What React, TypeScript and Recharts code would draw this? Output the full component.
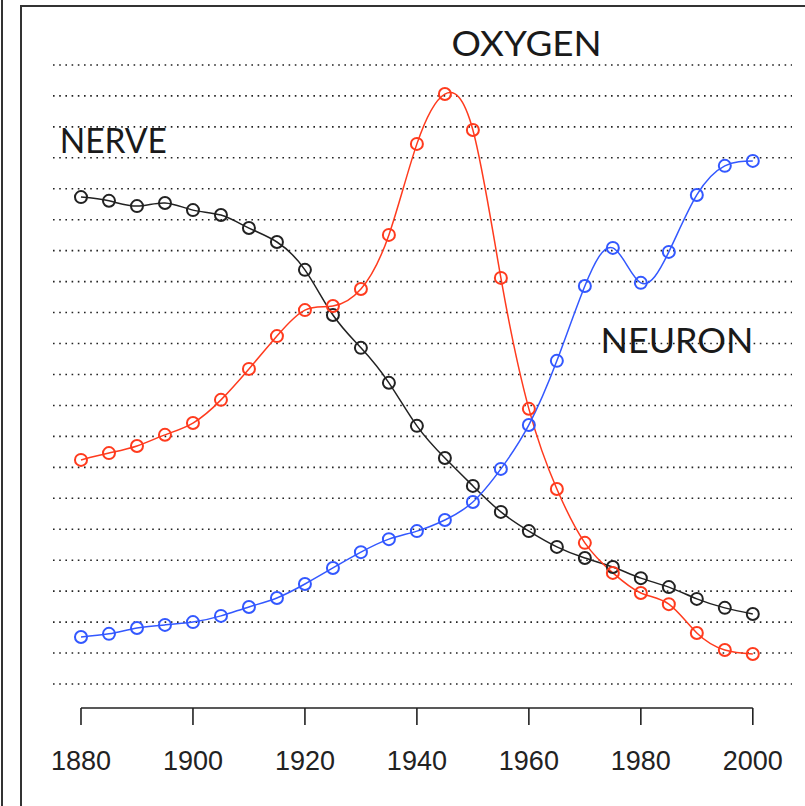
import React from 'react';
import { LineChart, Line, XAxis, YAxis, ReferenceLine, ReferenceDot } from 'recharts';

const years = [1880, 1885, 1890, 1895, 1900, 1905, 1910, 1915, 1920, 1925, 1930, 1935, 1940,
  1945, 1950, 1955, 1960, 1965, 1970, 1975, 1980, 1985, 1990, 1995, 2000];

const nerve = [15.73, 15.61, 15.44, 15.54, 15.31, 15.15, 14.73, 14.28, 13.38, 11.92, 10.86, 9.73, 8.34,
  7.3, 6.4, 5.56, 4.94, 4.43, 4.07, 3.78, 3.42, 3.13, 2.75, 2.46, 2.26];

const oxygen = [7.24, 7.46, 7.69, 8.05, 8.43, 9.18, 10.18, 11.24, 12.08, 12.21, 12.76, 14.51, 17.45,
  19.06, 17.9, 13.12, 8.89, 6.3, 4.56, 3.59, 2.94, 2.58, 1.65, 1.1, 0.97];

const neuron = [1.52, 1.62, 1.81, 1.91, 2.0, 2.2, 2.49, 2.78, 3.23, 3.75, 4.26, 4.68, 4.94,
  5.3, 5.88, 6.95, 8.37, 10.44, 12.86, 14.09, 12.96, 13.96, 15.8, 16.74, 16.9];

const xTicks = [1880, 1900, 1920, 1940, 1960, 1980, 2000];
const gridLevels = [0, 1, 2, 3, 4, 5, 6, 7, 8, 9, 10, 11, 12, 13, 14, 15, 16, 17, 18, 19, 20];

// word labels: [text, year, level, width]
const wordLabels: [string, number, number, number][] = [
  ['NERVE', 1876.2, 17.16, 107],
  ['OXYGEN', 1946.2, 20.29, 150],
  ['NEURON', 1972.8, 10.7, 153],
];

const data = years.map((y, i) => ({ year: y, nerve: nerve[i], oxygen: oxygen[i], neuron: neuron[i] }));

const Y_MIN = -0.7755;

const YearTick = (props: any) => {
  const { x, y, payload } = props;
  return (
    <text x={x} y={y} dy={43} textAnchor="middle" fontSize={27}
      fontFamily="'Liberation Sans', Arial, sans-serif" fill="#222">
      {payload.value}
    </text>
  );
};

function App() {
  return (
    <div style={{ position: 'absolute', left: 0, top: 0, width: 805, height: 806, overflow: 'hidden', background: '#fff' }}>
      <div style={{ position: 'absolute', left: 1, top: 0, width: 2, height: 806, background: '#333' }} />
      <div style={{ position: 'absolute', left: 20, top: 5, width: 800, height: 820, borderLeft: '2px solid #333', borderTop: '2px solid #333' }} />
      <div style={{ position: 'absolute', left: 0, top: 0 }}>
        <LineChart width={805} height={806} data={data}
          margin={{ top: 34, right: 13, left: 53, bottom: 38 }}>
          <XAxis dataKey="year" type="number" domain={[1875, 2007]} ticks={xTicks}
            axisLine={false} tickSize={17} tickLine={{ stroke: '#222', strokeWidth: 1.6 }}
            tick={<YearTick />} height={60} allowDataOverflow />
          <YAxis hide domain={[Y_MIN, 21]} ticks={gridLevels} allowDataOverflow />
          {gridLevels.map((g) => (
            <ReferenceLine key={g} y={g} stroke="#222" strokeWidth={1.6} strokeDasharray="1.6 4.6" />
          ))}
          <ReferenceLine segment={[{ x: 1880, y: Y_MIN }, { x: 2000, y: Y_MIN }]}
            stroke="#222" strokeWidth={1.6} ifOverflow="visible" />
          {wordLabels.map(([t, x, y, w]) => (
            <ReferenceDot key={t} x={x} y={y} r={0} ifOverflow="visible"
              shape={(p: any) => (
                <text x={p.cx} y={p.cy} fontSize={35} fontFamily="Lato, 'Open Sans', sans-serif"
                  textLength={w} lengthAdjust="spacingAndGlyphs" fill="#1a1a1a">{t}</text>
              )} />
          ))}
          <Line type="natural" dataKey="nerve" stroke="#222" strokeWidth={1.5}
            dot={{ r: 6, stroke: '#222', strokeWidth: 2, fill: 'none' }} isAnimationActive={false} />
          <Line type="natural" dataKey="oxygen" stroke="#ff3b1e" strokeWidth={1.5}
            dot={{ r: 6, stroke: '#ff3b1e', strokeWidth: 2, fill: 'none' }} isAnimationActive={false} />
          <Line type="natural" dataKey="neuron" stroke="#3358ff" strokeWidth={1.5}
            dot={{ r: 6, stroke: '#3358ff', strokeWidth: 2, fill: 'none' }} isAnimationActive={false} />
        </LineChart>
      </div>
    </div>
  );
}

export default App;
